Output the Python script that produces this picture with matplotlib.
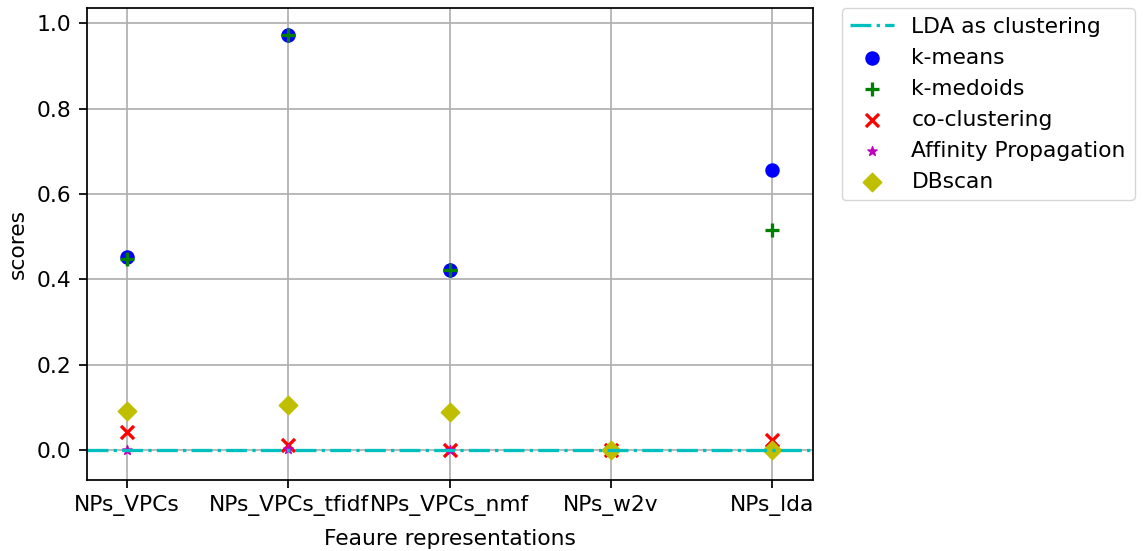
import matplotlib
matplotlib.use("Agg")
import matplotlib.pyplot as plt
import numpy as np

categories = ["NPs_VPCs", "NPs_VPCs_tfidf", "NPs_VPCs_nmf", "NPs_w2v", "NPs_lda"]
kmeans = [0.453, 0.973, 0.422, 0.0, 0.656]
kmedoids = [0.447, 0.973, 0.422, 0.0, 0.515]
coclust = [0.043, 0.012, 0.0, 0.0, 0.023]
affinity = [0.0, 0.002, 0.0, 0.0, 0.0]
dbscan = [0.091, 0.105, 0.088, 0.0, 0.0]
lda_clustering = 0.0

S = 1.57
plt.rcParams['font.size'] = 10 * S
fig = plt.figure(figsize=(11.43, 5.51), dpi=100)
ax = fig.add_axes([0.076, 0.129, 0.635, 0.856])
x = np.arange(len(categories))

ax.axhline(lda_clustering, color='c', linestyle='-.', linewidth=1.5 * S, label='LDA as clustering')
ax.scatter(x, kmeans, c='b', marker='o', s=36 * S * S, label='k-means')
ax.scatter(x, kmedoids, c='g', marker='+', s=36 * S * S, linewidths=1.5 * S, label='k-medoids')
ax.scatter(x, coclust, c='r', marker='x', s=36 * S * S, linewidths=1.5 * S, label='co-clustering')
ax.scatter(x, affinity, c='m', marker='*', s=20 * S * S, label='Affinity Propagation')
ax.scatter(x, dbscan, c='y', marker='D', s=36 * S * S, label='DBscan')

ax.set_xticks(x)
ax.set_xticklabels(categories)
ax.set_xlim(-0.25, 4.25)
ax.set_ylim(-0.07, 1.035)
ax.set_yticks([0.0, 0.2, 0.4, 0.6, 0.8, 1.0])
ax.grid(True, color='#b0b0b0', linewidth=0.8 * S)
ax.set_axisbelow(True)
ax.set_xlabel('Feaure representations', labelpad=4 * S + 3)
ax.set_ylabel('scores', labelpad=4 * S)
for sp in ax.spines.values():
    sp.set_linewidth(0.8 * S)
ax.tick_params(width=0.8 * S, length=3.5 * S, pad=3.5 * S)
ax.legend(loc='upper left', bbox_to_anchor=(1.04, 1.0), borderaxespad=0, framealpha=0.8)

fig.savefig('out.png', dpi=100)
